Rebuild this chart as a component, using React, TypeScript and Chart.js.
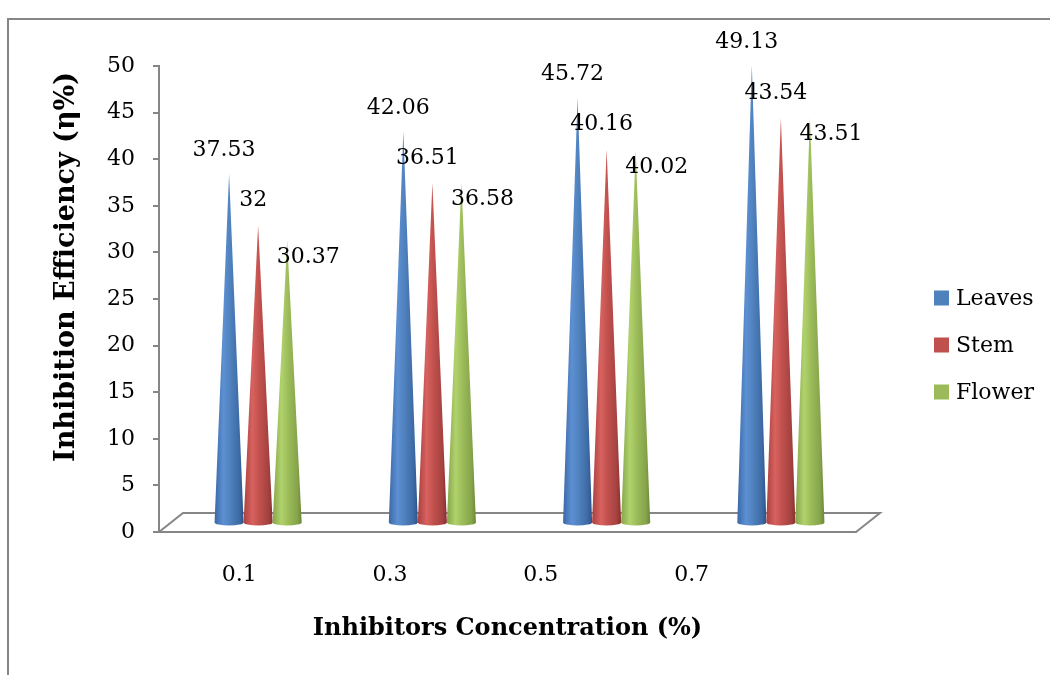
import React, { useEffect, useRef } from 'react';
import { Chart, registerables } from 'chart.js';

Chart.register(...registerables);

// ---- data ----
const concentrations = [0.1, 0.3, 0.5, 0.7];
const categoryLabels = ['0.1', '0.3', '0.5', '0.7'];
const seriesNames = ['Leaves', 'Stem', 'Flower'];
const leavesValues = [37.53, 42.06, 45.72, 49.13];
const stemValues = [32, 36.51, 40.16, 43.54];
const flowerValues = [30.37, 36.58, 40.02, 43.51];
const yTickValues = [0, 5, 10, 15, 20, 25, 30, 35, 40, 45, 50];

// ---- styles ----
const FONT = '"DejaVu Serif", "Liberation Serif", serif';
const AXIS_GRAY = '#868686';
const seriesColors = ['#4F81BD', '#C0504D', '#9BBB59'];
const seriesShades = [
  ['#3a68a6', '#5d90d3', '#4f81bd', '#3d6aa5', '#2c5285'],
  ['#a8403e', '#d8625f', '#c0504d', '#a44240', '#84302e'],
  ['#86a54a', '#b0d26c', '#9bbb59', '#86a44b', '#6a8736'],
];
const DEPTH_X = 24;
const DEPTH_Y = 19;
const labelOffsets = [
  { dx: 7, dy: -32 },
  { dx: 7, dy: -33 },
  { dx: 33, dy: 8 },
];

const conePlugin = {
  id: 'cones3d',
  beforeDraw(chart: any) {
    const { ctx, width, height } = chart;
    ctx.save();
    ctx.fillStyle = '#ffffff';
    ctx.fillRect(0, 0, width, height);
    ctx.strokeStyle = AXIS_GRAY;
    ctx.lineWidth = 2;
    ctx.beginPath();
    ctx.moveTo(8, height + 5);
    ctx.lineTo(8, 19);
    ctx.lineTo(width + 5, 19);
    ctx.stroke();
    ctx.restore();
  },
  beforeDatasetsDraw(chart: any) {
    const { ctx, chartArea } = chart;
    const { left, right, bottom } = chartArea;
    ctx.save();
    ctx.strokeStyle = AXIS_GRAY;
    ctx.lineWidth = 2;
    ctx.beginPath();
    ctx.moveTo(left, bottom);
    ctx.lineTo(left + DEPTH_X, bottom - DEPTH_Y);
    ctx.lineTo(right + DEPTH_X, bottom - DEPTH_Y);
    ctx.lineTo(right, bottom);
    ctx.stroke();
    ctx.restore();
  },
  beforeDatasetDraw() {
    return false;
  },
  afterDatasetsDraw(chart: any) {
    const { ctx } = chart;
    ctx.save();
    chart.data.datasets.forEach((ds: any, di: number) => {
      const meta = chart.getDatasetMeta(di);
      const shades = seriesShades[di];
      meta.data.forEach((el: any) => {
        const { x, y, base, width } = el.getProps(['x', 'y', 'base', 'width'], true);
        const cx = x + DEPTH_X / 2;
        const apexY = y - DEPTH_Y / 2 + 1;
        const baseY = base - DEPTH_Y / 2 + 1;
        const rx = width / 2;
        const ry = 3;
        const grad = ctx.createLinearGradient(cx - rx, 0, cx + rx, 0);
        grad.addColorStop(0, shades[0]);
        grad.addColorStop(0.3, shades[1]);
        grad.addColorStop(0.55, shades[2]);
        grad.addColorStop(0.85, shades[3]);
        grad.addColorStop(1, shades[4]);
        ctx.fillStyle = grad;
        ctx.beginPath();
        ctx.moveTo(cx, apexY);
        ctx.lineTo(cx + rx, baseY);
        ctx.ellipse(cx, baseY, rx, ry, 0, 0, Math.PI, false);
        ctx.closePath();
        ctx.fill();
      });
    });
    // data labels
    ctx.fillStyle = '#000000';
    ctx.font = `22px ${FONT}`;
    ctx.textAlign = 'center';
    ctx.textBaseline = 'middle';
    chart.data.datasets.forEach((ds: any, di: number) => {
      const meta = chart.getDatasetMeta(di);
      const off = labelOffsets[di];
      meta.data.forEach((el: any, i: number) => {
        const { x, y } = el.getProps(['x', 'y'], true);
        ctx.fillText(String(ds.data[i]), x + off.dx, y + off.dy);
      });
    });
    ctx.restore();
  },
  afterDraw(chart: any) {
    const { ctx } = chart;
    ctx.save();
    // y axis title
    ctx.translate(67, 267);
    ctx.rotate(-Math.PI / 2);
    ctx.font = `bold 27px ${FONT}`;
    ctx.fillStyle = '#000000';
    ctx.textAlign = 'center';
    ctx.textBaseline = 'middle';
    ctx.fillText('Inhibition Efficiency (η%)', 0, 0);
    ctx.restore();
    // legend
    ctx.save();
    ctx.font = `22px ${FONT}`;
    ctx.textAlign = 'left';
    ctx.textBaseline = 'middle';
    chart.data.datasets.forEach((ds: any, di: number) => {
      const cy = 298 + di * 47;
      ctx.fillStyle = ds.backgroundColor;
      ctx.fillRect(934, cy - 7.5, 15, 15);
      ctx.fillStyle = '#000000';
      ctx.fillText(ds.label, 956, cy + 1);
    });
    ctx.restore();
  },
};

export default function App() {
  const canvasRef = useRef<HTMLCanvasElement | null>(null);

  useEffect(() => {
    const canvas = canvasRef.current;
    if (!canvas) return;
    const seriesValues = [leavesValues, stemValues, flowerValues];
    const chart = new Chart(canvas, {
      type: 'bar',
      data: {
        labels: categoryLabels,
        datasets: seriesNames.map((name, i) => ({
          label: name,
          data: seriesValues[i],
          backgroundColor: seriesColors[i],
          borderWidth: 0,
          xAxisID: 'x',
          yAxisID: 'y',
          barPercentage: 1,
          categoryPercentage: 0.5,
        })),
      },
      options: {
        responsive: false,
        animation: false,
        devicePixelRatio: 1,
        layout: { padding: { left: 0, top: 66, right: 194, bottom: 0 } },
        plugins: {
          legend: { display: false },
          tooltip: { enabled: false },
        },
        scales: {
          x: {
            type: 'category',
            display: false,
            offset: true,
          },
          xl: {
            type: 'linear',
            position: 'bottom',
            min: -0.0064,
            max: 0.918,
            offset: false,
            bounds: 'data',
            afterBuildTicks: (s: any) => {
              s.ticks = concentrations.map((v) => ({ value: v }));
            },
            afterFit: (s: any) => {
              s.height = 143;
            },
            ticks: {
              callback: (v: any) => categoryLabels[concentrations.indexOf(Number(v))] ?? '',
              font: { family: FONT, size: 22 },
              color: '#000000',
              padding: 30,
              maxRotation: 0,
              autoSkip: false,
            },
            grid: { display: false, drawTicks: false, offset: false },
            border: { display: true, color: AXIS_GRAY, width: 2 },
            title: {
              display: true,
              text: 'Inhibitors Concentration (%)',
              font: { family: FONT, size: 24, weight: 'bold' },
              color: '#000000',
              padding: { top: 0, bottom: 32 },
            },
          },
          y: {
            type: 'linear',
            min: 0,
            max: 50,
            afterBuildTicks: (s: any) => {
              s.ticks = yTickValues.map((v) => ({ value: v }));
            },
            afterFit: (s: any) => {
              s.width = 159;
            },
            ticks: {
              font: { family: FONT, size: 22 },
              color: '#000000',
              padding: 18,
            },
            grid: {
              drawOnChartArea: false,
              drawTicks: true,
              tickLength: 6,
              color: AXIS_GRAY,
              lineWidth: 2,
            },
            border: { display: true, color: AXIS_GRAY, width: 2 },
          },
        },
      },
      plugins: [conePlugin],
    } as any);
    return () => chart.destroy();
  }, []);

  return (
    <div style={{ position: 'fixed', left: 0, top: 0, width: 1050, height: 675, background: '#ffffff' }}>
      <canvas ref={canvasRef} width={1050} height={675} style={{ display: 'block' }} />
    </div>
  );
}
